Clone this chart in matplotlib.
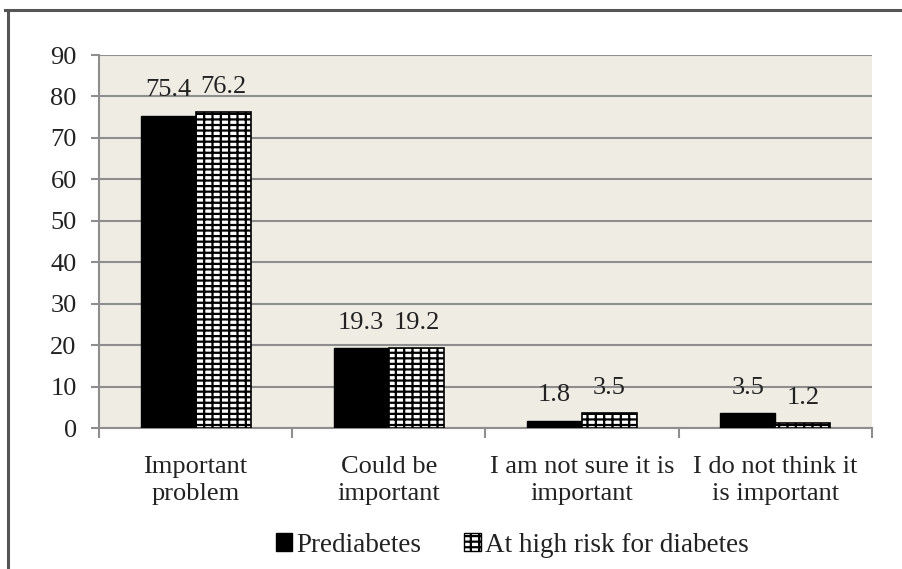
import numpy as np
import matplotlib.pyplot as plt
from matplotlib.lines import Line2D
from matplotlib.patches import Patch

categories = ["Important\nproblem", "Could be\nimportant",
              "I am not sure it is\nimportant", "I do not think it\nis important"]
prediabetes = [75.4, 19.3, 1.8, 3.5]
high_risk = [76.2, 19.2, 3.5, 1.2]
series_names = ["Prediabetes", "At high risk for diabetes"]

plt.rcParams['font.family'] = ['Liberation Serif', 'DejaVu Serif']
plt.rcParams['hatch.linewidth'] = 1.6

fig = plt.figure(figsize=(9.03, 5.69), dpi=100)
ax = fig.add_axes([0.1096, 0.2478, 0.856, 0.6555])
ax.set_facecolor('#efece4')

x = np.arange(len(categories))
w = 0.285
grid_c = '#8e8e8e'
txt_c = '#222222'

ax.bar(x - w / 2, prediabetes, w, color='black', edgecolor='black', zorder=3)
ax.bar(x + w / 2, high_risk, w, color='white', edgecolor='black',
       hatch='++-', linewidth=1.2, zorder=3)

for xi, v in zip(x - w / 2, prediabetes):
    ax.text(xi, v + 4.6, f"{v}", ha='center', va='baseline', fontsize=19, color=txt_c)
for xi, v in zip(x + w / 2, high_risk):
    ax.text(xi, v + 4.6, f"{v}", ha='center', va='baseline', fontsize=19, color=txt_c)

ax.set_xlim(-0.5, len(categories) - 0.5)
ax.set_ylim(0, 90)
ax.set_yticks(range(0, 91, 10))
ax.yaxis.grid(True, color=grid_c, linewidth=1.5, zorder=0)
ax.set_axisbelow(True)

ax.set_xticks(x)
ax.set_xticklabels(categories, fontsize=19, linespacing=1.3, color=txt_c)
ax.tick_params(axis='x', which='major', length=0, pad=20)
ax.set_xticks(np.arange(-0.5, len(categories)), minor=True)
ax.tick_params(axis='x', which='minor', length=7, width=1.5, color=grid_c)
ax.tick_params(axis='y', labelsize=19, length=6, width=1.5, color=grid_c,
               labelcolor=txt_c, pad=10)

for s in ['top', 'right']:
    ax.spines[s].set_visible(False)
for s in ['left', 'bottom']:
    ax.spines[s].set_color(grid_c)
    ax.spines[s].set_linewidth(1.5)

handles = [Patch(facecolor='black', edgecolor='black'),
           Patch(facecolor='white', edgecolor='black', hatch='++-')]
fig.legend(handles, series_names, loc='center', bbox_to_anchor=(0.567, 0.042),
           ncol=2, frameon=False, fontsize=19.5, handlelength=0.6, handleheight=0.6,
           handletextpad=0.15, columnspacing=1.6, labelcolor=txt_c)

# outer frame (top and left edges)
fig.add_artist(Line2D([0.006, 1.0], [0.982, 0.982], color='#555555', linewidth=2.2,
                      transform=fig.transFigure))
fig.add_artist(Line2D([0.009, 0.009], [0.0, 0.982], color='#555555', linewidth=2.2,
                      transform=fig.transFigure))

fig.savefig('out.png', dpi=100)
